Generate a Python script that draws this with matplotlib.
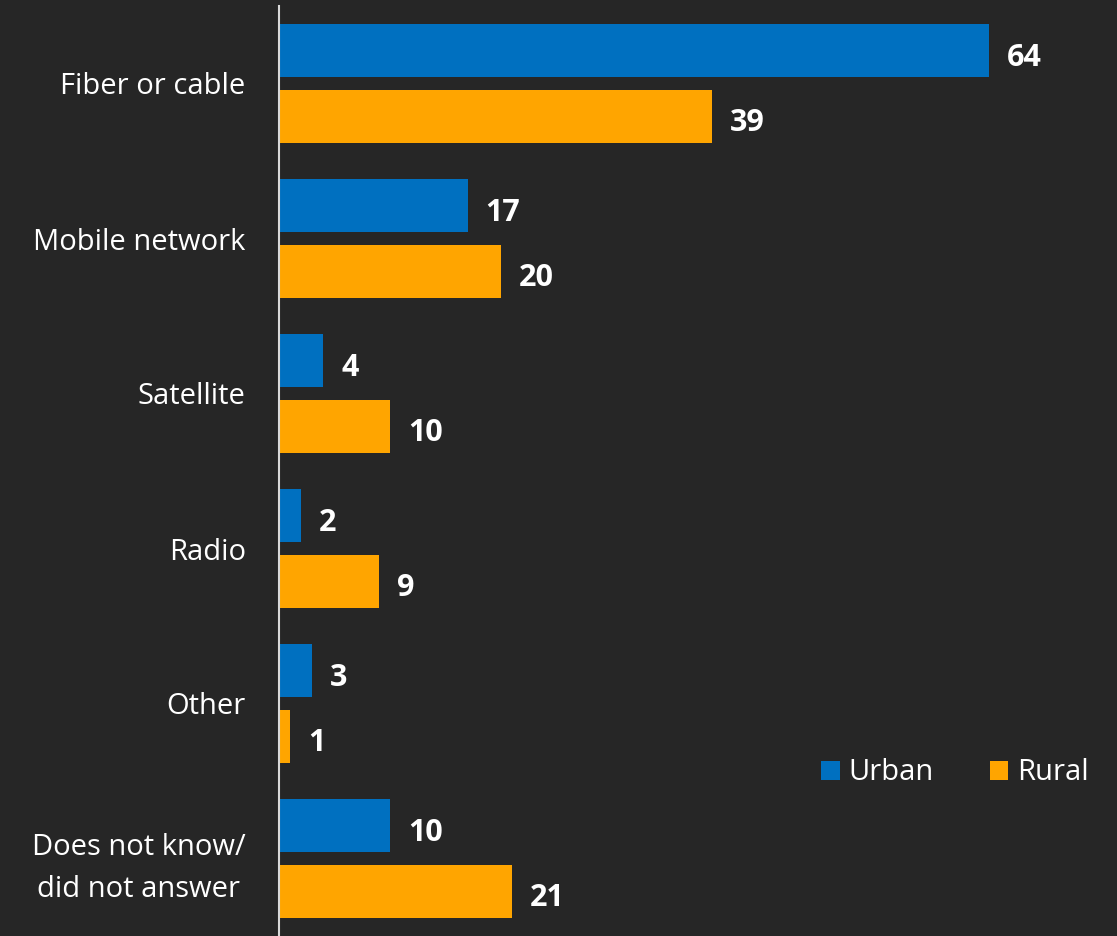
import matplotlib.pyplot as plt
import numpy as np

# Connection type by area (%)
categories = ['Fiber or cable', 'Mobile network', 'Satellite', 'Radio', 'Other',
              'Does not know/\ndid not answer']
urban = [64, 17, 4, 2, 3, 10]
rural = [39, 20, 10, 9, 1, 21]

bg = '#262626'
blue = '#0070C0'
orange = '#FFA500'

plt.rcParams['font.family'] = ['Open Sans', 'DejaVu Sans']

W, H = 1117, 936
fig = plt.figure(figsize=(W / 100, H / 100), dpi=100, facecolor=bg)
ax = fig.add_axes([279 / W, 0, 838 / W, 930 / H])
ax.set_facecolor(bg)

y = np.arange(len(categories))
h = 0.342
off = 0.21
b1 = ax.barh(y - off, urban, height=h, color=blue, label='Urban')
b2 = ax.barh(y + off, rural, height=h, color=orange, label='Rural')

for bars, vals in [(b1, urban), (b2, rural)]:
    for bar, v in zip(bars, vals):
        ax.annotate(str(v), (bar.get_width(), bar.get_y() + bar.get_height() / 2),
                    xytext=(13, -2.5), textcoords='offset points', ha='left',
                    va='center_baseline', color='white', fontsize=22, fontweight='bold')

ax.set_xlim(0, 838 / 11.09)
ax.set_ylim(len(categories) - 0.5, -0.5)
ax.set_yticks(y)
ax.set_yticklabels(categories, fontsize=21, color='white', multialignment='center',
                   linespacing=1.6)
ax.tick_params(axis='y', length=0, pad=24)
ax.set_xticks([])
for s in ['top', 'right', 'bottom']:
    ax.spines[s].set_visible(False)
ax.spines['left'].set_color('#D9D9D9')
ax.spines['left'].set_linewidth(1.5)

leg = fig.legend(loc='center', bbox_to_anchor=(955 / W, 1 - 773 / H), ncol=2,
                 frameon=False, fontsize=21, labelcolor='white', handlelength=0.65,
                 handleheight=0.65, handletextpad=0.3, columnspacing=1.9)

fig.savefig('out.png', dpi=100, facecolor=bg)
